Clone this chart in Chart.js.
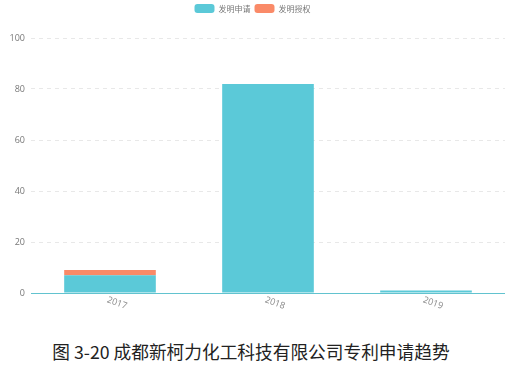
<!DOCTYPE html>
<html>
<head>
<meta charset="utf-8">
<script src="https://cdn.jsdelivr.net/npm/chart.js@4"></script>
<style>
  html, body { margin: 0; padding: 0; background: #fff; }
  #wrap { position: relative; width: 510px; height: 325px; }
  #title {
    position: absolute; left: 0; top: 338px; width: 502px; text-align: center;
    font-family: "Noto Sans CJK SC", sans-serif; font-size: 17.7px; color: #222;
    line-height: 26px;
  }
</style>
</head>
<body>
<div id="wrap"><canvas id="c" width="510" height="325"></canvas></div>
<div id="title">图 3-20 成都新柯力化工科技有限公司专利申请趋势</div>
<script>
const years = ['2017', '2018', '2019'];
const applied = [7, 82, 1];     // 发明申请
const granted = [2, 0, 0];      // 发明授权
const yTicks = [0, 20, 40, 60, 80, 100];

const cyan = '#5bc9d8';
const orange = '#fa8a68';

// extra room between the legend and the plot
const legendGap = {
  id: 'legendGap',
  beforeInit(chart) {
    const fit = chart.legend.fit;
    chart.legend.fit = function () {
      fit.call(this);
      this.height += 15;
    };
  }
};

// x labels drawn tilted clockwise under each category
const tiltedLabels = {
  id: 'tiltedLabels',
  afterDraw(chart) {
    const { ctx, scales } = chart;
    const x = scales.x;
    ctx.save();
    ctx.font = '9px "Open Sans", sans-serif';
    ctx.fillStyle = '#888';
    ctx.textAlign = 'center';
    ctx.textBaseline = 'middle';
    years.forEach((label, i) => {
      const px = x.getPixelForValue(i);
      ctx.save();
      ctx.translate(px + 7, x.top + 10);
      ctx.rotate(20 * Math.PI / 180);
      ctx.fillText(label, 0, 0);
      ctx.restore();
    });
    ctx.restore();
  }
};

// baseline under the bars in the series colour
const baseLine = {
  id: 'baseLine',
  afterDatasetsDraw(chart) {
    const { ctx, chartArea } = chart;
    const y = Math.round(chart.scales.y.getPixelForValue(0)) + 0.5;
    ctx.save();
    ctx.strokeStyle = '#62c3cf';
    ctx.lineWidth = 1;
    ctx.beginPath();
    ctx.moveTo(chartArea.left, y);
    ctx.lineTo(chartArea.right, y);
    ctx.stroke();
    ctx.restore();
  }
};

new Chart(document.getElementById('c'), {
  type: 'bar',
  data: {
    labels: years,
    datasets: [
      { label: '发明申请', data: applied, backgroundColor: cyan, stack: 's' },
      { label: '发明授权', data: granted, backgroundColor: orange, stack: 's' }
    ]
  },
  options: {
    responsive: false,
    animation: false,
    datasets: { bar: { barPercentage: 0.58, categoryPercentage: 1 } },
    layout: { padding: { left: 0, right: 5, top: 0, bottom: 32 } },
    plugins: {
      legend: {
        position: 'top',
        labels: {
          boxWidth: 20, boxHeight: 9, useBorderRadius: true, borderRadius: 3,
          font: { size: 8, family: '"Noto Sans CJK SC", sans-serif' },
          color: '#777', padding: 4
        }
      },
      tooltip: { enabled: false }
    },
    scales: {
      x: {
        stacked: true,
        grid: { display: false, drawTicks: false },
        border: { display: false },
        ticks: { display: false }
      },
      y: {
        stacked: true,
        min: 0, max: 100,
        afterBuildTicks(scale) { scale.ticks = yTicks.map(v => ({ value: v })); },
        afterFit(scale) { scale.width = 31; },
        grid: {
          color: (c) => (c.tick && c.tick.value === 0 ? 'rgba(0,0,0,0)' : '#e8e8e8'),
          drawTicks: false
        },
        border: { display: false, dash: [4, 4] },
        ticks: {
          padding: 6,
          color: '#777',
          font: { size: 9, family: '"Open Sans", sans-serif' }
        }
      }
    }
  },
  plugins: [legendGap, tiltedLabels, baseLine]
});
</script>
</body>
</html>
